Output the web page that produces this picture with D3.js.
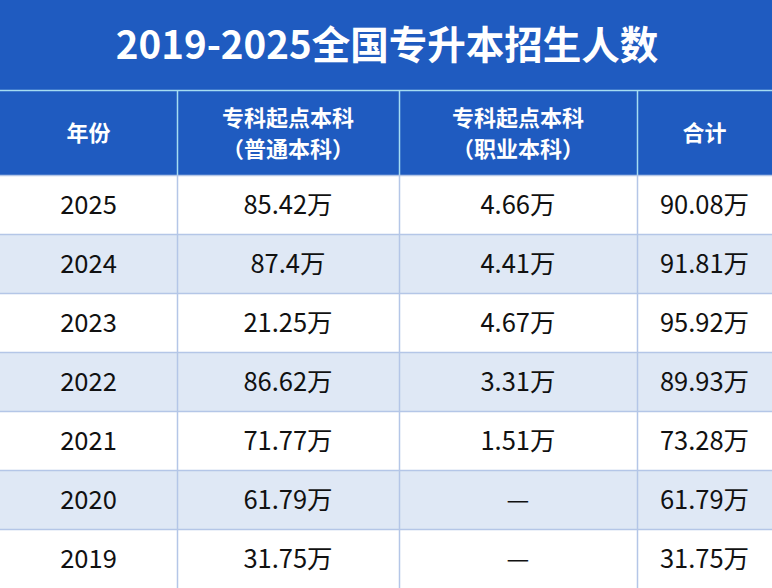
<!DOCTYPE html>
<html>
<head>
<meta charset="utf-8">
<script src="https://cdn.jsdelivr.net/npm/d3@7/dist/d3.min.js"></script>
<style>
  html, body { margin: 0; padding: 0; background: #fff; }
  svg { display: block; }
  text { font-family: "Noto Sans CJK SC", "Noto Sans", sans-serif; }
</style>
</head>
<body>
<div id="chart"></div>
<script>
const title = '2019-2025全国专升本招生人数';
const headers = [['年份'], ['专科起点本科', '（普通本科）'], ['专科起点本科', '（职业本科）'], ['合计']];
const years = ['2025', '2024', '2023', '2022', '2021', '2020', '2019'];
const general = ['85.42万', '87.4万', '21.25万', '86.62万', '71.77万', '61.79万', '31.75万'];
const vocational = ['4.66万', '4.41万', '4.67万', '3.31万', '1.51万', '—', '—'];
const totals = ['90.08万', '91.81万', '95.92万', '89.93万', '73.28万', '61.79万', '31.75万'];

const width = 772;
const height = 588;
const titleH = 90;
const headH = 85;
const colEdges = [0, 177, 399, 637, 772];
const blue = '#1f5bc0';

const rows = years.map((year, i) => [year, general[i], vocational[i], totals[i]]);

const svg = d3.select('#chart').append('svg')
  .attr('width', width)
  .attr('height', height)
  .attr('viewBox', `0 0 ${width} ${height}`);

const y = d3.scaleBand()
  .domain(d3.range(rows.length))
  .range([titleH + headH, height]);

const colX = (i) => colEdges[i];
const colMid = (i) => (colEdges[i] + colEdges[i + 1]) / 2;

// title band
svg.append('rect')
  .attr('width', width).attr('height', titleH)
  .attr('fill', blue);

svg.append('text')
  .attr('x', width / 2 + 1)
  .attr('y', titleH / 2)
  .attr('dy', '0.36em')
  .attr('text-anchor', 'middle')
  .attr('fill', '#fff')
  .attr('font-size', 38.5)
  .attr('font-weight', 700)
  .text(title);

// header band
svg.append('rect')
  .attr('y', titleH).attr('width', width).attr('height', headH)
  .attr('fill', blue);

const head = svg.append('g').attr('class', 'head');
headers.forEach((lines, i) => {
  const cy = titleH + headH / 2 + 1;
  const lineH = 31;
  const t = head.append('text')
    .attr('text-anchor', 'middle')
    .attr('fill', '#fff')
    .attr('font-size', 22)
    .attr('font-weight', 700);
  lines.forEach((line, j) => {
    t.append('tspan')
      .attr('x', colMid(i))
      .attr('y', cy + (j - (lines.length - 1) / 2) * lineH)
      .attr('dy', '0.36em')
      .text(line);
  });
});

// body rows
const body = svg.append('g').attr('class', 'body');
body.selectAll('rect')
  .data(rows)
  .join('rect')
  .attr('x', 0)
  .attr('y', (d, i) => y(i))
  .attr('width', width)
  .attr('height', y.bandwidth())
  .attr('fill', (d, i) => (i % 2 ? '#dfe8f5' : '#ffffff'));

body.selectAll('g.row')
  .data(rows)
  .join('g')
  .attr('class', 'row')
  .selectAll('text')
  .data((d, i) => d.map((v, c) => ({ v, c, r: i })))
  .join('text')
  .attr('x', (d) => colMid(d.c))
  .attr('y', (d) => y(d.r) + y.bandwidth() / 2)
  .attr('dy', '0.36em')
  .attr('text-anchor', 'middle')
  .attr('fill', '#111')
  .attr('font-size', 25.5)
  .text((d) => d.v);

// grid lines
const grid = svg.append('g').attr('class', 'grid');
grid.selectAll('line.h')
  .data(d3.range(1, rows.length))
  .join('line')
  .attr('class', 'h')
  .attr('x1', 0).attr('x2', width)
  .attr('y1', (i) => Math.round(y(i)) + 0.5)
  .attr('y2', (i) => Math.round(y(i)) + 0.5)
  .attr('stroke', '#b4c6e7')
  .attr('stroke-width', 1.5);

grid.selectAll('line.v')
  .data([1, 2, 3])
  .join('line')
  .attr('class', 'v')
  .attr('x1', (i) => colX(i) + 0.5).attr('x2', (i) => colX(i) + 0.5)
  .attr('y1', titleH + headH).attr('y2', height)
  .attr('stroke', '#b4c6e7')
  .attr('stroke-width', 1.5);

grid.selectAll('line.hv')
  .data([1, 2, 3])
  .join('line')
  .attr('class', 'hv')
  .attr('x1', (i) => colX(i) + 0.5).attr('x2', (i) => colX(i) + 0.5)
  .attr('y1', titleH).attr('y2', titleH + headH)
  .attr('stroke', '#a5dcf2')
  .attr('stroke-width', 1.5);

grid.append('line')
  .attr('x1', 0).attr('x2', width)
  .attr('y1', titleH + 0.5).attr('y2', titleH + 0.5)
  .attr('stroke', '#a5dcf2')
  .attr('stroke-width', 1.5);

grid.append('line')
  .attr('x1', 0).attr('x2', width)
  .attr('y1', titleH + headH + 0.5).attr('y2', titleH + headH + 0.5)
  .attr('stroke', '#b4c6e7')
  .attr('stroke-width', 1.5);
</script>
</body>
</html>
